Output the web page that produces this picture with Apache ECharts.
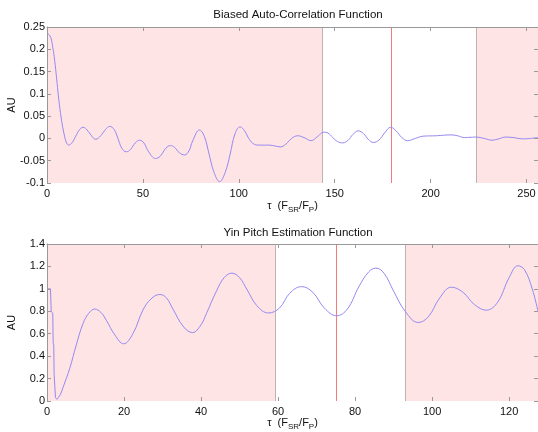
<!DOCTYPE html>
<html><head><meta charset="utf-8">
<script src="https://cdn.jsdelivr.net/npm/echarts@6/dist/echarts.min.js"></script>
<style>html,body{margin:0;padding:0;background:#fff}#c{width:538px;height:432px}</style>
</head><body><div id="c"></div>
<script>
// Biased auto-correlation (lag, value)
const acfLag = [0,1,2,3,4,5,6,7,8,9,10,11.3,13,15,17,18.8,20.5,22.5,25.4,28,30.5,32.7,35,37,39,41.3,43.5,46,48.3,50.5,53,56.6,59,62,64.4,66.5,69,71.7,74,76,79.5,82,84.5,87,90,93,95.5,98,100.7,103,105.5,108,110.8,116,119,121.7,124.5,127.5,130.7,134,137.7,141,144.3,146.5,149,151.5,154.2,157,159.5,162.3,165,167.5,170.2,173,176,179.2,182,185,188,192,196,203,210.6,214,217.6,223.6,228,232,235.5,239,243,248,252,256];
const acfVal = [0.236,0.233,0.226,0.205,0.175,0.135,0.093,0.058,0.030,0.008,-0.008,-0.015,-0.010,0.005,0.020,0.025,0.021,0.010,-0.002,0.006,0.020,0.027,0.020,0.000,-0.022,-0.030,-0.025,-0.010,-0.004,-0.010,-0.030,-0.045,-0.040,-0.022,-0.016,-0.020,-0.032,-0.037,-0.028,-0.005,0.019,0.005,-0.035,-0.075,-0.097,-0.075,-0.035,0.010,0.026,0.017,-0.002,-0.013,-0.015,-0.015,-0.017,-0.019,-0.013,0.000,0.006,0.002,-0.005,0.004,0.014,0.012,0.002,-0.007,-0.010,-0.004,0.009,0.017,0.011,-0.002,-0.009,-0.004,0.012,0.025,0.017,0.002,-0.005,0.000,0.005,0.006,0.008,0.006,0.002,0.003,0.000,-0.004,-0.001,0.003,0.002,-0.001,0.000,0.002];
const acfBounds = [143.5, 179.5, 223.7];

// Yin function: steep start (straight segments) and smooth body
const yinHeadLag = [0,0.9,1.1,1.5,1.6,1.75,1.85,2.0,2.2,2.6];
const yinHeadVal = [1.0,1.0,0.80,0.78,0.52,0.50,0.24,0.23,0.03,0.015];
const yinLag = [2.6,3.5,4.2,5.9,7.6,9.35,10.8,12.4,14,15.4,17.6,19.9,22.3,24.9,27,29.3,31,32.7,35.5,37.8,40,41.4,44,46,48,50,52,54.5,57.5,60.4,63,66.1,69,72,75.2,78,81,83.5,85.4,87.5,90,93,96.4,99,102,105,108,111,114.1,117,120,122.3,124,126,127.5];
const yinVal = [0.015,0.06,0.125,0.29,0.50,0.69,0.78,0.82,0.79,0.72,0.59,0.51,0.60,0.81,0.91,0.95,0.92,0.82,0.66,0.61,0.68,0.78,0.98,1.10,1.14,1.10,0.99,0.85,0.785,0.83,0.96,1.02,0.97,0.83,0.76,0.82,1.02,1.15,1.185,1.14,0.98,0.80,0.70,0.75,0.92,1.015,0.97,0.86,0.81,0.88,1.10,1.206,1.17,1.00,0.80];
const yinBounds = [59.3, 75.1, 93.0];

const titles = ['Biased Auto-Correlation Function', 'Yin Pitch Estimation Function'];
const yLabel = 'AU';

const FONT = 'Liberation Sans, Arial, Helvetica, sans-serif';
const PINK = '#fee4e4', GRAYL = '#bdb3b3', REDL = '#f77a7a', CURVE = '#9489f2', AXIS = '#999999';
const zip = (a, b) => a.map((v, i) => [v, b[i]]);

const xName = '{a|τ  (F}{s|SR}{a|/F}{s|P}{a|)}';
const xRich = { a: {fontSize: 11, color: '#111', fontFamily: FONT, lineHeight: 16},
                s: {fontSize: 8, color: '#111', fontFamily: FONT, lineHeight: 8, verticalAlign: 'bottom'} };

function xAxes(g, max, interval, nameGap) {
  return [
    { gridIndex: g, type: 'value', min: 0, max: max, interval: interval, position: 'bottom', z: 10,
      axisLine: {show: false, onZero: false}, splitLine: {show: false},
      axisTick: {inside: true, length: 4, lineStyle: {color: AXIS}},
      axisLabel: {fontSize: 11, color: '#111', fontFamily: FONT, margin: 5,
        formatter: v => (Math.abs(v / interval - Math.round(v / interval)) < 1e-6 ? String(v) : '')},
      name: xName, nameLocation: 'middle', nameGap: nameGap, nameMoveOverlap: false, nameTextStyle: {rich: xRich} },
    { gridIndex: g, type: 'value', min: 0, max: max, interval: interval, position: 'top', z: 10,
      axisLine: {show: true, onZero: false, lineStyle: {color: AXIS, width: 1}}, splitLine: {show: false},
      axisTick: {inside: true, length: 4, lineStyle: {color: AXIS}}, axisLabel: {show: false} }
  ];
}
function yAxes(g, min, max, interval) {
  return [
    { gridIndex: g, type: 'value', min: min, max: max, interval: interval, position: 'left', z: 10,
      axisLine: {show: true, onZero: false, lineStyle: {color: AXIS, width: 1}}, splitLine: {show: false},
      axisTick: {inside: true, length: 4, lineStyle: {color: AXIS}},
      axisLabel: {fontSize: 11, color: '#111', fontFamily: FONT, margin: 2,
        formatter: v => String(Math.round(v * 100) / 100)},
      name: yLabel, nameLocation: 'middle', nameGap: 30, nameRotate: 90, nameMoveOverlap: false,
      nameTextStyle: {fontSize: 11, color: '#111', fontFamily: FONT} },
    { gridIndex: g, type: 'value', min: min, max: max, interval: interval, position: 'right', z: 10,
      axisLine: {show: false, onZero: false}, splitLine: {show: false},
      axisTick: {inside: true, length: 4, lineStyle: {color: AXIS}}, axisLabel: {show: false} }
  ];
}
function shading(xi, yi, bounds, max) {
  return { type: 'line', xAxisIndex: xi, yAxisIndex: yi, data: [[0, 0]], symbol: 'none', z: 1,
    lineStyle: {opacity: 0}, silent: true,
    markArea: { silent: true, itemStyle: {color: PINK},
      data: [[{xAxis: 0}, {xAxis: bounds[0]}], [{xAxis: bounds[2]}, {xAxis: max}]] },
    markLine: { silent: true, symbol: 'none', label: {show: false}, animation: false,
      lineStyle: {color: GRAYL, width: 1, type: 'solid'},
      data: [ {xAxis: bounds[0]}, {xAxis: bounds[2]} ] } };
}
function redLine(xi, yi, bounds) {
  return { type: 'line', xAxisIndex: xi, yAxisIndex: yi, data: [[0, 0]], symbol: 'none', z: 2,
    lineStyle: {opacity: 0}, silent: true,
    markLine: { silent: true, symbol: 'none', label: {show: false}, animation: false,
      lineStyle: {color: REDL, width: 1, type: 'solid', opacity: 1},
      emphasis: {disabled: true},
      data: [ {xAxis: bounds[1]} ] } };
}

const chart = echarts.init(document.getElementById('c'), null, {renderer: 'canvas'});
chart.setOption({
  animation: false,
  backgroundColor: '#fff',
  title: [
    {text: titles[0], left: 293, textAlign: 'center', top: 4, textStyle: {fontSize: 11.5, fontWeight: 'normal', color: '#111', fontFamily: FONT}},
    {text: titles[1], left: 293, textAlign: 'center', top: 222, textStyle: {fontSize: 11.5, fontWeight: 'normal', color: '#111', fontFamily: FONT}}
  ],
  grid: [
    {left: 47, right: 0, top: 27, height: 156, containLabel: false, outerBoundsMode: 'none'},
    {left: 47, right: 0, top: 244, height: 157, containLabel: false, outerBoundsMode: 'none'}
  ],
  xAxis: [...xAxes(0, 256, 50, 15), ...xAxes(1, 127.5, 20, 14)],
  yAxis: [...yAxes(0, -0.1, 0.25, 0.05), ...yAxes(1, 0, 1.4, 0.2)],
  series: [
    shading(0, 0, acfBounds, 256),
    redLine(0, 0, acfBounds),
    { type: 'line', xAxisIndex: 0, yAxisIndex: 0, data: zip(acfLag, acfVal), symbol: 'none', smooth: 0.4, z: 5,
      lineStyle: {color: CURVE, width: 1} },
    shading(2, 2, yinBounds, 127.5),
    redLine(2, 2, yinBounds),
    { type: 'line', xAxisIndex: 2, yAxisIndex: 2, data: zip(yinHeadLag, yinHeadVal), symbol: 'none', smooth: false, z: 5,
      lineStyle: {color: CURVE, width: 1} },
    { type: 'line', xAxisIndex: 2, yAxisIndex: 2, data: zip(yinLag, yinVal), symbol: 'none', smooth: 0.4, z: 5,
      lineStyle: {color: CURVE, width: 1} }
  ]
});
</script></body></html>
